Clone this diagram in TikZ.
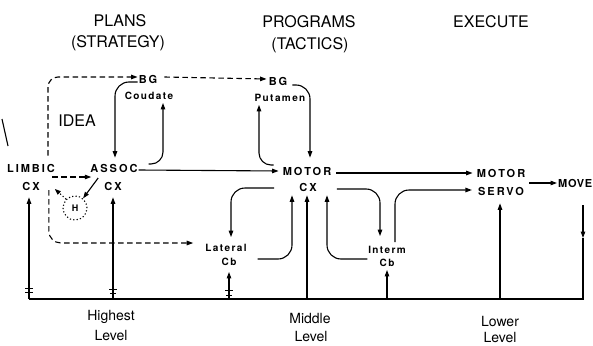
\documentclass[tikz,border=0pt]{standalone}
\usepackage{fontspec}
\setmainfont{TeX Gyre Heros}
\newfontfamily\labfont[LetterSpace=18]{TeX Gyre Heros}
\newfontfamily\smfont[LetterSpace=14]{TeX Gyre Heros}
\newfontfamily\mvfont[LetterSpace=6]{TeX Gyre Heros}
\usetikzlibrary{arrows.meta,calc}
\begin{document}
\begin{tikzpicture}[x=1pt,y=-1pt,
  lab/.style={font=\labfont\bfseries\fontsize{11}{11}\selectfont, inner sep=1pt},
  sm/.style={font=\smfont\bfseries\fontsize{10}{10}\selectfont, inner sep=1pt},
  hdr/.style={font=\fontsize{16}{16}\selectfont, inner sep=1pt},
  lvl/.style={font=\fontsize{14}{14}\selectfont, inner sep=0.5pt},
  ln/.style={line width=1.1pt},
  arr/.style={ln, -{Triangle[length=6.5pt,width=4.5pt]}},
  dsh/.style={arr, dash pattern=on 5.5pt off 3.5pt},
  dt/.style={ln, dash pattern=on 1.2pt off 2.2pt},
  tick/.style={line width=0.9pt}]
\fill[white] (0,0) rectangle (593,345);
\useasboundingbox (0,0) rectangle (593,345);

% headers
\node[hdr] (plans) at (120,21) {PLANS};
\node[hdr] (strategy) at (118,43) {(STRATEGY)};
\node[hdr] (programs) at (309,22) {PROGRAMS};
\node[hdr] (tactics) at (310,45) {(TACTICS)};
\node[hdr] (execute) at (491,22) {EXECUTE};

% nodes
\node[lab] (bgc) at (148,79) {BG};
\node[sm] (coud) at (149,96) {Coudate};
\node[lab] (bgp) at (278,81) {BG};
\node[sm] (put) at (280,98) {Putamen};
\node[font=\fontsize{16}{16}\selectfont, inner sep=1pt] (idea) at (77,121) {IDEA};
\node[lab] (limbic) at (31,168) {LIMBIC};
\node[lab] (limbiccx) at (31,186) {CX};
\node[lab] (assoc) at (114,168) {ASSOC};
\node[lab] (assoccx) at (113,186) {CX};
\node[lab] (motor) at (307,171) {MOTOR};
\node[lab] (motorcx) at (308,187) {CX};
\node[lab] (mservo) at (501,173) {MOTOR};
\node[lab] (servo) at (501,191) {SERVO};
\node[font=\mvfont\bfseries\fontsize{11}{11}\selectfont, inner sep=0pt, anchor=west] (move) at (558,183) {MOVE};
\node[sm] (lateral) at (226,248) {Lateral};
\node[sm] (latcb) at (229,262) {Cb};
\node[sm] (interm) at (387,250) {Interm};
\node[sm] (intcb) at (387,263) {Cb};
\node[circle, draw, dt, minimum size=24pt, inner sep=0pt,
      font=\bfseries\fontsize{9}{9}\selectfont] (h) at (75,208) {H};

\node[lvl] (highest) at (111,317) {Highest};
\node[lvl] (lvl1) at (111,335) {Level};
\node[lvl] (middle) at (310,318) {Middle};
\node[lvl] (lvl2) at (311,336) {Level};
\node[lvl] (lower) at (500,321) {Lower};
\node[lvl] (lvl3) at (500,337) {Level};

% slash mark at left
\draw[ln] (2,119) -- (8,146);

% baseline coordinates
\coordinate (bl) at (29,299);
\coordinate (br) at (583,299);
\coordinate (mvtop) at (583,205);
\coordinate (mvmid) at (583,238);

% dashed connectors
\draw[dsh, rounded corners=10] ($(limbic.north)+(17,-7)$) |- ($(bgc.west)+(0,-2)$);
\draw[dsh] ($(limbic.east)+(-4,9)$) -- ($(assoc.west)+(2,9)$);
\draw[dsh] ($(bgc.east)+(6,-2)$) -- ($(bgp.west)+(-1,-2)$);
\draw[dsh, rounded corners=12] ($(limbiccx.east)+(8,4)$) |- ($(lateral.west)+(-11,-5)$);

% solid connectors upper
\draw[arr, rounded corners=14] ($(bgc.west)+(0,3)$) -| ($(assoc.north)+(1,-5)$);
\draw[arr, rounded corners=12] ($(assoc.east)+(10,-4)$) -| ($(coud.south)+(14,2)$);
\draw[arr] ($(assoc.east)+(0,2)$) -- ($(motor.west)+(-3,0)$);
\draw[arr, rounded corners=14] ($(bgp.east)+(4,4)$) -| ($(motor.north)+(3,-8)$);
\draw[arr, rounded corners=12] ($(motor.west)+(-8,-6)$) -| ($(put.south)+(-21,2)$);
\draw[arr] ($(motor.east)+(4,2)$) -- ($(mservo.west)+(-3,0)$);
\draw[arr] ($(servo.east)+(4,-8)$) -- ($(move.west)+(-1,0)$);

% motor cx and cerebellum loops
\draw[arr, rounded corners=14] ($(motorcx.west)+(-24,1)$) -| ($(lateral.north)+(5,-6)$);
\draw[arr, rounded corners=14] ($(latcb.east)+(20,-3)$) -| ($(motorcx.south)+(-16,3)$);
\draw[arr, rounded corners=14] ($(motorcx.east)+(19,2)$) -| ($(interm.north)+(-7,-9)$);
\draw[arr, rounded corners=14] ($(intcb.west)+(-11,-4)$) -| ($(motorcx.south)+(19,3)$);
\draw[arr, rounded corners=14] ($(interm.north)+(8,-3)$) |- ($(servo.west)+(-5,-1)$);

% H connectors
\draw[dt, -{Triangle[length=6pt,width=4.5pt]}] (h.135) -- ($(limbiccx.east)+(14,3)$);
\draw[arr] ($(assoccx.west)+(-5,-8)$) -- (h.50);

% MOVE feedback and baseline
\draw[arr] (mvtop) -- (mvmid);
\draw[ln] (mvmid) -- (br) -- (bl);

% ascending arrows from baseline
\draw[arr] (bl) -- ($(limbiccx.south)+(-2,6)$);
\draw[arr] (assoccx.south |- bl) -- ($(assoccx.south)+(0,6)$);
\draw[arr] (latcb.south |- bl) -- ($(latcb.south)+(0,5)$);
\draw[arr] ($(motorcx.south |- bl)+(-1,0)$) -- ($(motorcx.south)+(-1,3)$);
\draw[arr] (intcb.south |- bl) -- ($(intcb.south)+(0,2)$);
\draw[arr] ($(servo.south |- bl)+(-1,0)$) -- ($(servo.south)+(-1,7)$);

% tick marks
\draw[tick] (25,288) -- (33,288) (25,292) -- (33,292);
\draw[tick] (109,289) -- (117,289) (110,293) -- (116,293);
\draw[tick] (225,290) -- (233,290) (226,295) -- (232,295);
\end{tikzpicture}
\end{document}
